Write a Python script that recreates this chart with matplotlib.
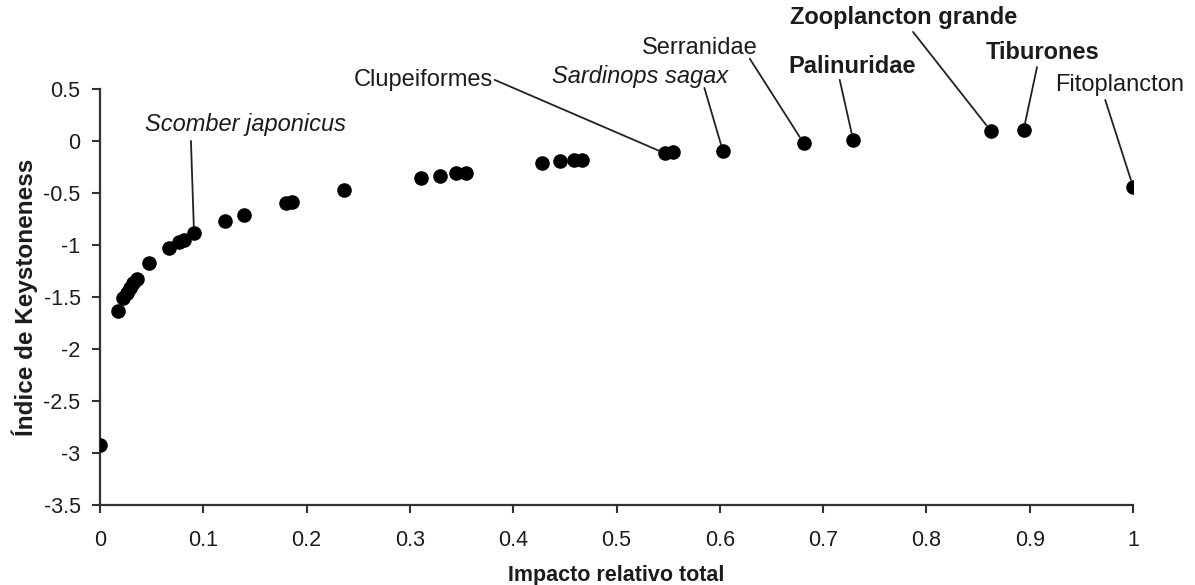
import matplotlib
matplotlib.use("Agg")
import matplotlib.pyplot as plt

plt.rcParams["font.family"] = ["Liberation Sans", "DejaVu Sans"]

# impacto relativo total vs. indice de keystoneness
impacto = [0.000, 0.017, 0.022, 0.026, 0.029, 0.032, 0.036, 0.047, 0.067,
           0.076, 0.081, 0.091, 0.121, 0.139, 0.180, 0.186, 0.236, 0.311,
           0.329, 0.345, 0.354, 0.428, 0.445, 0.459, 0.467, 0.547, 0.555,
           0.603, 0.681, 0.729, 0.862, 0.894, 1.000]
keystone = [-2.92, -1.64, -1.51, -1.46, -1.41, -1.37, -1.33, -1.17, -1.03,
            -0.97, -0.95, -0.89, -0.77, -0.71, -0.60, -0.59, -0.47, -0.36,
            -0.34, -0.31, -0.31, -0.21, -0.19, -0.18, -0.18, -0.12, -0.11,
            -0.10, -0.02, 0.01, 0.10, 0.105, -0.44]

# labelled groups: name, point index, text centre, leader start, style
labels = ["Scomber japonicus", "Clupeiformes", "Sardinops sagax", "Serranidae",
          "Palinuridae", "Zooplancton grande", "Tiburones", "Fitoplancton"]
label_idx = [11, 25, 27, 28, 29, 30, 31, 32]
label_xy = [(0.1404, 0.154), (0.3127, 0.587), (0.5227, 0.615), (0.5808, 0.894),
            (0.728, 0.712), (0.778, 1.183), (0.912, 0.846), (0.9865, 0.538)]
leader_xy = [(0.088, 0.0), (0.382, 0.587), (0.585, 0.51), (0.629, 0.79),
             (0.716, 0.587), (0.787, 1.048), (0.907, 0.71), (0.973, 0.394)]
label_style = ["italic", "normal", "italic", "normal",
               "bold", "bold", "bold", "normal"]

TXT = "#1c1c1c"

fig = plt.figure(figsize=(11.95, 5.85), dpi=100)
ax = fig.add_axes([0.0837, 0.137, 0.8645, 0.711])

ax.scatter(impacto, keystone, s=90, color="black", zorder=3)

for name, i, txy, lxy, st in zip(labels, label_idx, label_xy, leader_xy, label_style):
    kw = {"fontweight": "bold"} if st == "bold" else {"fontstyle": st}
    ax.text(txy[0], txy[1], name, ha="center", va="center", fontsize=17,
            color=TXT, clip_on=False, **kw)
    ax.annotate("", xy=(impacto[i], keystone[i]), xytext=lxy,
                arrowprops=dict(arrowstyle="-", color="#222222", lw=1.3,
                                shrinkA=0, shrinkB=5),
                annotation_clip=False)

ax.set_xlim(0, 1)
ax.set_ylim(-3.5, 0.5)
ax.set_xticks([0, 0.1, 0.2, 0.3, 0.4, 0.5, 0.6, 0.7, 0.8, 0.9, 1])
ax.set_xticklabels(["0", "0.1", "0.2", "0.3", "0.4", "0.5", "0.6", "0.7",
                    "0.8", "0.9", "1"])
ax.set_yticks([0.5, 0, -0.5, -1, -1.5, -2, -2.5, -3, -3.5])
ax.set_yticklabels(["0.5", "0", "-0.5", "-1", "-1.5", "-2", "-2.5", "-3", "-3.5"])
ax.tick_params(labelsize=15.5, length=6, width=1.5, color="#333333",
               labelcolor=TXT)
ax.tick_params(axis="x", pad=12)
ax.tick_params(axis="y", pad=8)
ax.spines[["top", "right"]].set_visible(False)
for s in ("left", "bottom"):
    ax.spines[s].set_linewidth(1.6)
    ax.spines[s].set_color("#333333")

ax.set_xlabel("Impacto relativo total", fontsize=15.5, fontweight="bold",
              color=TXT, labelpad=10)
ax.set_ylabel("Índice de Keystoneness", fontsize=17.5, fontweight="bold",
              color=TXT, labelpad=4)

fig.savefig("out.png", dpi=100)
